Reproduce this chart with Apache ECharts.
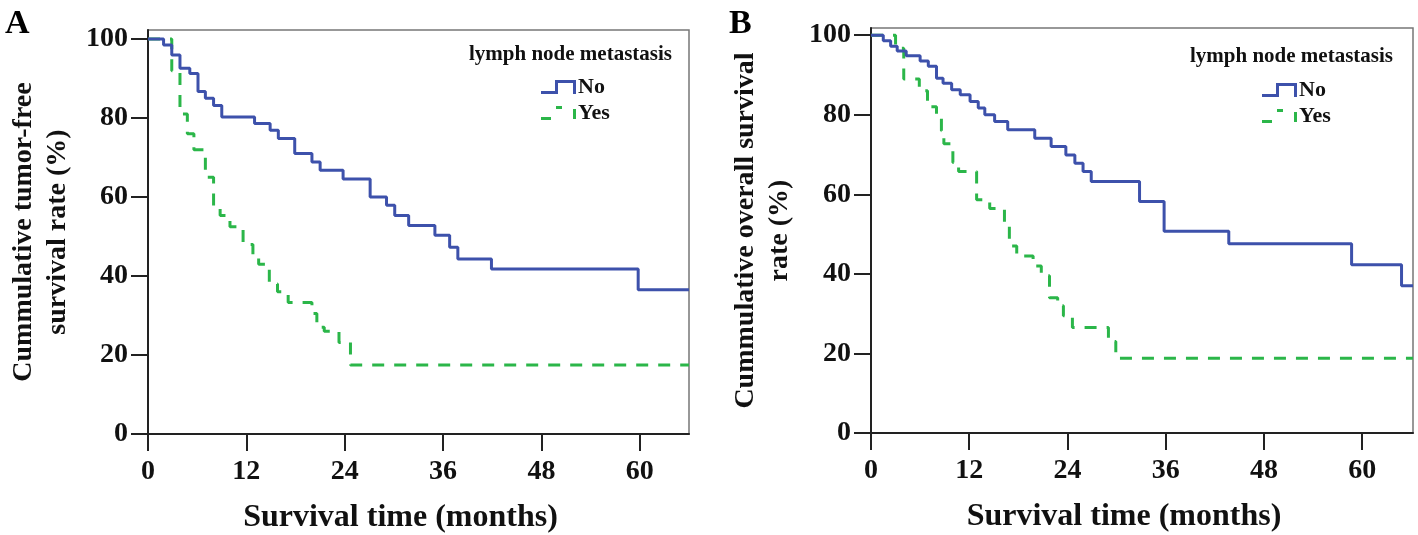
<!DOCTYPE html>
<html>
<head>
<meta charset="utf-8">
<title>Kaplan-Meier curves by lymph node metastasis</title>
<script src="https://cdn.jsdelivr.net/npm/echarts@6/dist/echarts.min.js"></script>
<style>
html, body { margin: 0; padding: 0; background: #fff; }
#chart { width: 1418px; height: 535px; }
</style>
</head>
<body>
<div id="chart"></div>
<script>
// A: tumor-free survival (months, %)
const tfsNoTime = [0, 1.9, 2.9, 3.9, 5.1, 6.1, 7.0, 8.0, 9.0, 13.0, 14.9, 15.9, 17.9, 20.0, 21.0, 23.8, 27.1, 29.1, 30.1, 31.8, 35.0, 36.8, 37.8, 41.9, 59.8, 66]
const tfsNoRate = [100, 98.5, 96, 92.6, 91.3, 86.7, 85, 83.2, 80.3, 78.6, 76.9, 74.8, 71, 68.9, 66.8, 64.6, 60, 57.9, 55.3, 52.8, 50.3, 47.3, 44.3, 41.8, 36.5, 36.5]
const tfsYesTime = [0, 2.9, 3.9, 4.8, 5.6, 7.0, 8.0, 8.8, 10.0, 11.6, 12.8, 13.5, 14.8, 15.8, 17.1, 20.0, 20.6, 21.5, 23.3, 24.7, 66]
const tfsYesRate = [100, 92, 81, 76, 72, 65, 57, 55.3, 52.5, 48, 45, 43, 38, 36, 33.3, 30.5, 27, 26, 23.2, 17.5, 17.5]

// B: overall survival (months, %)
const osNoTime = [0, 1.5, 2.4, 3.2, 4.3, 6.0, 7.0, 8.0, 8.8, 9.85, 10.9, 12.1, 13.1, 13.9, 15.1, 16.7, 20.0, 22.0, 23.8, 24.9, 25.9, 26.9, 32.8, 35.8, 43.7, 58.7, 64.8, 66.2]
const osNoRate = [100, 98.6, 97.2, 96, 94.8, 93.5, 92.2, 89.2, 87.9, 86.3, 85, 83.3, 81.7, 80, 78.3, 76.2, 74.1, 72, 69.9, 67.8, 65.7, 63.2, 58.2, 50.7, 47.6, 42.3, 37, 37]
const osYesTime = [0, 3.0, 4.0, 5.9, 6.9, 8.0, 8.6, 8.9, 10.0, 10.7, 12.9, 14.5, 16.3, 16.9, 17.8, 19.8, 20.8, 21.8, 22.8, 23.5, 24.6, 29.0, 29.9, 66.2]
const osYesRate = [100, 96.7, 89, 86, 82, 79, 76, 72.7, 68, 65.7, 58.6, 56.4, 53, 47, 44.5, 42, 39.5, 34, 32, 29.5, 26.5, 23, 18.8, 18.8]

const groups = ['No', 'Yes']
const xTicks = [0, 12, 24, 36, 48, 60]
const yTicks = [0, 20, 40, 60, 80, 100]

const FONT = '"Liberation Serif", "Times New Roman", serif'
const BLUE = '#3d51ab'
const GREEN = '#2bb649'

const pairs = (t, v) => t.map((x, i) => [x, v[i]])

const stepIcon = 'path://M0,11 L14,11 L14,0 L35,0 L35,14 L32,14 L32,3 L17,3 L17,14 L0,14 Z'
const dashIcon = 'path://M0,11 L10,11 L10,14 L0,14 Z M15,0 L21,0 L21,3 L15,3 Z M32,3 L35,3 L35,13 L32,13 Z'

const axisText = { fontFamily: FONT, fontWeight: 'bold', fontSize: 28, color: '#111' }
const blackLine = { color: '#222', width: 2 }

const makeX = (gridIndex, max) => ({
  type: 'value',
  gridIndex,
  min: 0,
  max,
  name: 'Survival time (months)',
  nameLocation: 'middle',
  nameGap: 68,
  nameTextStyle: { fontFamily: FONT, fontWeight: 'bold', fontSize: 32, color: '#111', padding: [0, 36, 0, 0] },
  axisLine: { onZero: false, lineStyle: blackLine },
  axisTick: { inside: false, length: 17, lineStyle: blackLine, customValues: xTicks },
  axisLabel: { ...axisText, margin: 24, customValues: xTicks },
  splitLine: { show: false }
})

const makeY = (gridIndex, max, name, gap) => ({
  type: 'value',
  gridIndex,
  min: 0,
  max,
  name,
  nameLocation: 'middle',
  nameGap: gap,
  nameRotate: 90,
  nameTextStyle: { fontFamily: FONT, fontWeight: 'bold', fontSize: 28, color: '#111', lineHeight: 34 },
  axisLine: { onZero: false, lineStyle: blackLine },
  axisTick: { inside: false, length: 17, lineStyle: blackLine, customValues: yTicks },
  axisLabel: { ...axisText, margin: 20, customValues: yTicks },
  splitLine: { show: false }
})

const makeSeries = (name, idx, data, color, dashed) => ({
  name,
  type: 'line',
  xAxisIndex: idx,
  yAxisIndex: idx,
  step: 'end',
  data,
  showSymbol: false,
  symbol: 'none',
  silent: true,
  itemStyle: { color },
  lineStyle: { color, width: 3, type: dashed ? [12, 10] : 'solid' },
  z: dashed ? 3 : 4
})

const makeLegend = (left, top) => ({
  data: [{ name: groups[0], icon: stepIcon }, { name: groups[1], icon: dashIcon }],
  orient: 'vertical',
  left,
  top,
  itemWidth: 35,
  itemHeight: 14,
  itemGap: 4,
  selectedMode: false,
  itemStyle: { borderWidth: 0 },
  textStyle: { fontFamily: FONT, fontWeight: 'bold', fontSize: 22, color: '#111', lineHeight: 22, padding: [0, 0, 0, -3] }
})

const headText = { fontFamily: FONT, fontWeight: 'bold', fontSize: 21, color: '#111' }

const chart = echarts.init(document.getElementById('chart'), null, { renderer: 'canvas' })

chart.setOption({
  animation: false,
  backgroundColor: '#fff',
  title: [
    { text: 'A', left: 0, top: 2, textStyle: { fontFamily: FONT, fontWeight: 'bold', fontSize: 34, color: '#000' } },
    { text: 'B', left: 724, top: 2, textStyle: { fontFamily: FONT, fontWeight: 'bold', fontSize: 34, color: '#000' } },
    { text: 'lymph node metastasis', right: 741, top: 39, textStyle: headText },
    { text: 'lymph node metastasis', right: 20, top: 41, textStyle: headText }
  ],
  legend: [makeLegend(536, 71), makeLegend(1257, 74)],
  grid: [
    { left: 148, top: 30, width: 541, height: 404, outerBoundsMode: 'none', show: true, borderColor: '#777', borderWidth: 1.5 },
    { left: 871, top: 28, width: 542, height: 405, outerBoundsMode: 'none', show: true, borderColor: '#777', borderWidth: 1.5 }
  ],
  xAxis: [makeX(0, 66), makeX(1, 66.2)],
  yAxis: [
    makeY(0, 102.3, 'Cummulative tumor-free\nsurvival rate (%)', 73),
    makeY(1, 101.8, 'Cummulative overall survival\nrate (%)', 74)
  ],
  series: [
    makeSeries(groups[1], 0, pairs(tfsYesTime, tfsYesRate), GREEN, true),
    makeSeries(groups[0], 0, pairs(tfsNoTime, tfsNoRate), BLUE, false),
    makeSeries(groups[1], 1, pairs(osYesTime, osYesRate), GREEN, true),
    makeSeries(groups[0], 1, pairs(osNoTime, osNoRate), BLUE, false)
  ]
})
</script>
</body>
</html>
